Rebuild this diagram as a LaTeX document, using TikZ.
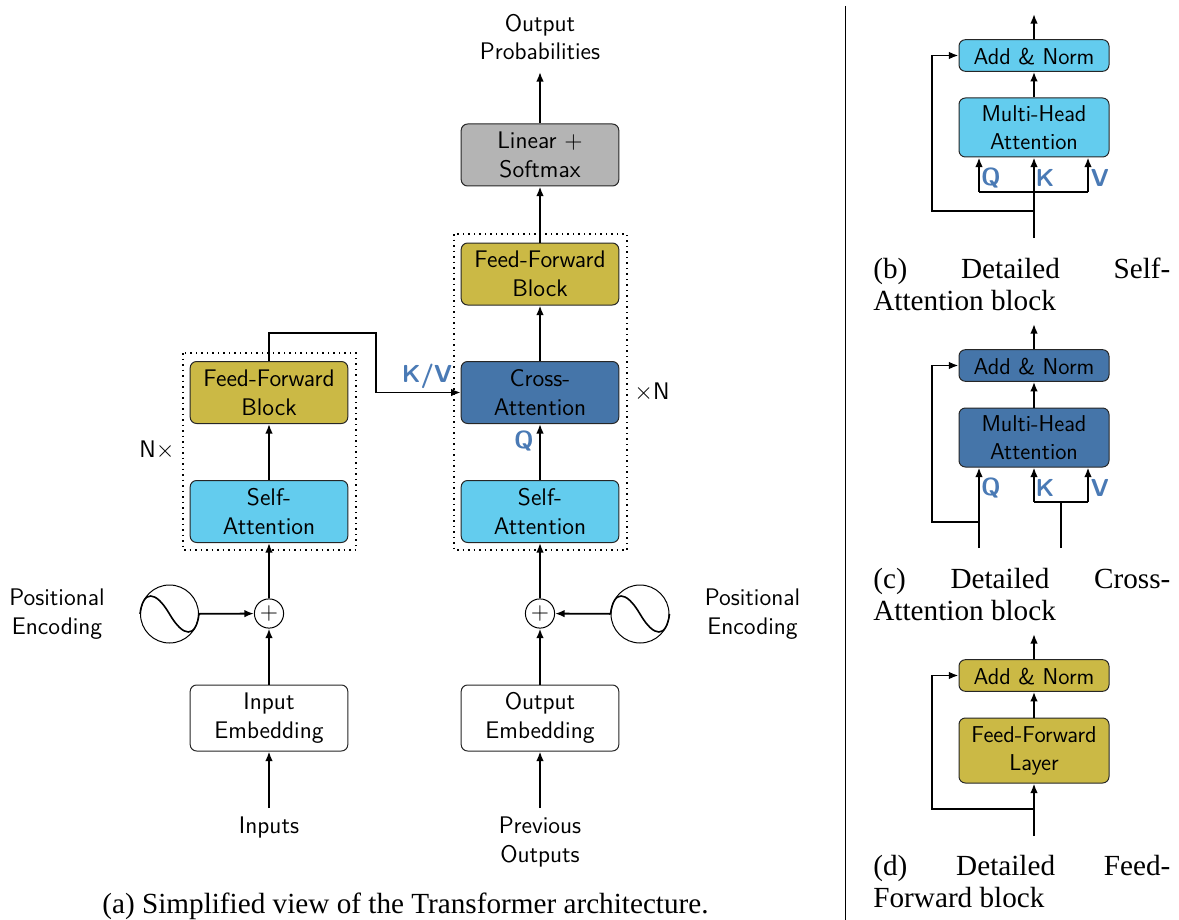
\documentclass[tikz,border=0pt]{standalone}
\usepackage{fontspec}
\setmainfont{Liberation Serif}
\usetikzlibrary{arrows.meta}
\definecolor{lblue}{HTML}{63CCEE}
\definecolor{dblue}{HTML}{4575A9}
\definecolor{gold}{HTML}{CBB945}
\definecolor{grayb}{HTML}{B4B4B4}
\definecolor{lab}{HTML}{4A7AB5}
\newcommand{\mainsz}{\fontsize{12}{14.4}\selectfont\sffamily}
\newcommand{\smallsz}{\fontsize{11.45}{14}\selectfont\sffamily}
\newcommand{\capsz}{\fontsize{14.6}{16}\selectfont\rmfamily}
\tikzset{
  x=0.5pt,y=-0.5pt,
  conn/.style={line width=0.9pt,-{Latex[length=4.8pt,width=3.8pt]}},
  plain/.style={line width=0.9pt},
  mbox/.style={draw=black!85,line width=0.5pt,rounded corners=3.2pt,minimum width=78.8pt,minimum height=31pt,align=center,inner sep=0pt,font=\mainsz,execute at begin node={\rule{0pt}{9.9pt}}},
  sbox/.style={draw=black!85,line width=0.5pt,rounded corners=3.2pt,minimum width=75pt,align=center,inner sep=0pt,font=\smallsz,execute at begin node={\rule{0pt}{9.2pt}}},
  addbox/.style={sbox,minimum height=15.8pt},
  mhbox/.style={sbox,minimum height=29.5pt},
  txt/.style={align=center,inner sep=0pt,font=\mainsz},
  lbl/.style={inner sep=0pt,text=lab,font=\fontsize{12.3}{14}\selectfont\sffamily\bfseries},
  dotbox/.style={draw,dotted,line width=0.75pt},
  addc/.style={draw,circle,line width=0.5pt,minimum size=14.6pt,inner sep=0pt,font=\mainsz},
  sinec/.style={draw,circle,line width=0.5pt,minimum size=29pt,inner sep=0pt},
  sinew/.style={line width=0.8pt},
  capt/.style={inner sep=0pt,font=\capsz},
  capj/.style={inner sep=0pt,anchor=north west,text width=148.5pt,align=justify,font=\capsz},
}
\begin{document}
\begin{tikzpicture}
\useasboundingbox (0,0) rectangle (1179,920);
% dotted groups
\draw[dotbox] (183,353) rectangle (356,550);
\draw[dotbox] (454,234) rectangle (627,550);
% left column
\node[txt] (inp) at (269,827) {Inputs};
\node[mbox,fill=white,minimum height=33pt] (iemb) at (269,718) {Input\\Embedding};
\node[addc] (pl) at (269,613.5) {$+$};
\node[sinec] (sl) at (169.5,614) {};
\node[mbox,fill=lblue] (sal) at (269,511.5) {Self-\\Attention};
\node[mbox,fill=gold] (ffl) at (269,392.5) {Feed-Forward\\Block};
\node[txt] (pel) at (57,614.5) {Positional\\Encoding};
\node[txt] (nx) at (157,450) {N$\times$};
% right column
\node[txt] (prev) at (540,842) {Previous\\Outputs};
\node[mbox,fill=white,minimum height=33pt] (oemb) at (540,718) {Output\\Embedding};
\node[addc] (pr) at (540,613.5) {$+$};
\node[sinec] (sr) at (640,614) {};
\node[mbox,fill=lblue] (sar) at (540,511.5) {Self-\\Attention};
\node[mbox,fill=dblue] (ca) at (540,392.5) {Cross-\\Attention};
\node[mbox,fill=gold] (ffr) at (540,274) {Feed-Forward\\Block};
\node[mbox,fill=grayb] (lin) at (540,155) {Linear $+$\\Softmax};
\node[txt] (outp) at (540,37) {Output\\Probabilities};
\node[txt] (per) at (752.5,614.5) {Positional\\Encoding};
\node[txt] (xn) at (652,392) {$\times$N};
\node[lbl] (kv) at (427,376) {K/V};
\node[lbl] (ql) at (524,440.5) {Q};
% sines
\draw[sinew] (sl.west) .. controls +(3,-24) and +(-14,-24) .. (sl.center) .. controls +(14,24) and +(-3,24) .. (sl.east);
\draw[sinew] (sr.west) .. controls +(3,-24) and +(-14,-24) .. (sr.center) .. controls +(14,24) and +(-3,24) .. (sr.east);
% left connectors
\draw[conn] (inp.north |- 0,808) -- (iemb.south);
\draw[conn] (iemb) -- (pl);
\draw[conn] (pl) -- (sal);
\draw[conn] (sl) -- (pl);
\draw[conn] (sal) -- (ffl);
\coordinate (tp) at (376,333);
\draw[conn] (ffl.north) |- (tp) |- (ca.west);
% right connectors
\draw[conn] (prev.north |- 0,808) -- (oemb.south);
\draw[conn] (oemb) -- (pr);
\draw[conn] (pr) -- (sar);
\draw[conn] (sr) -- (pr);
\draw[conn] (sar) -- (ca);
\draw[conn] (ca) -- (ffr);
\draw[conn] (ffr) -- (lin);
\coordinate (otop) at (540,72);
\draw[conn] (lin) -- (otop);
% separator
\coordinate (sa) at (845,6);
\coordinate (sb) at (845,920);
\draw[line width=0.5pt] (sa) -- (sb);
% (b)
\node[addbox,fill=lblue] (addb) at (1034,55.5) {Add \& Norm};
\node[mhbox,fill=lblue] (mhb) at (1034,127.5) {Multi-Head\\Attention};
\coordinate (tb) at (1034,14);
\coordinate (ib) at (1034,238);
\coordinate (qb) at (979,192);
\coordinate (vb) at (1088,192);
\coordinate (cb) at (1034,192);
\coordinate (rb) at (1034,211);
\coordinate (lb) at (932,211);
\draw[conn] (addb) -- (tb);
\draw[conn] (mhb) -- (addb);
\draw[conn] (ib) -- (cb |- mhb.south);
\draw[conn] (qb) -- (qb |- mhb.south);
\draw[conn] (vb) -- (vb |- mhb.south);
\draw[plain] (qb) -- (vb);
\draw[conn] (rb) -- (lb) |- (addb.west);
\node[lbl] at (991,178) {Q};
\node[lbl] at (1045,178) {K};
\node[lbl] at (1100,178) {V};
\node[capj] at (873,258) {(b) Detailed Self-\linebreak Attention block};
% (c)
\node[addbox,fill=dblue] (addc) at (1034,365.5) {Add \& Norm};
\node[mhbox,fill=dblue] (mhc) at (1034,437.5) {Multi-Head\\Attention};
\coordinate (tc) at (1034,324);
\coordinate (iqc) at (979,548);
\coordinate (ikc) at (1061,548);
\coordinate (kc) at (1034,502);
\coordinate (vc) at (1088,502);
\coordinate (mc) at (1061,502);
\coordinate (rc) at (979,522);
\coordinate (lc) at (932,522);
\draw[conn] (addc) -- (tc);
\draw[conn] (mhc) -- (addc);
\draw[conn] (iqc) -- (iqc |- mhc.south);
\draw[conn] (kc) -- (kc |- mhc.south);
\draw[conn] (vc) -- (vc |- mhc.south);
\draw[plain] (kc) -- (vc);
\draw[plain] (ikc) -- (mc);
\draw[conn] (rc) -- (lc) |- (addc.west);
\node[lbl] at (991,488) {Q};
\node[lbl] at (1045,488) {K};
\node[lbl] at (1100,488) {V};
\node[capj] at (873,568) {(c) Detailed Cross-\linebreak Attention block};
% (d)
\node[addbox,fill=gold] (addd) at (1034,675.5) {Add \& Norm};
\node[mhbox,fill=gold,minimum height=32.5pt] (ffd) at (1034,750.5) {Feed-Forward\\Layer};
\coordinate (td) at (1034,634);
\coordinate (id) at (1034,836);
\coordinate (rd) at (1034,809);
\coordinate (ld) at (932,809);
\draw[conn] (addd) -- (td);
\draw[conn] (ffd) -- (addd);
\draw[conn] (id) -- (ffd);
\draw[conn] (rd) -- (ld) |- (addd.west);
\node[capj] at (873,855) {(d) Detailed Feed-\linebreak Forward block};
% caption a
\node[capt] (capa) at (405.5,906) {(a) Simplified view of the Transformer architecture.};
\end{tikzpicture}
\end{document}
